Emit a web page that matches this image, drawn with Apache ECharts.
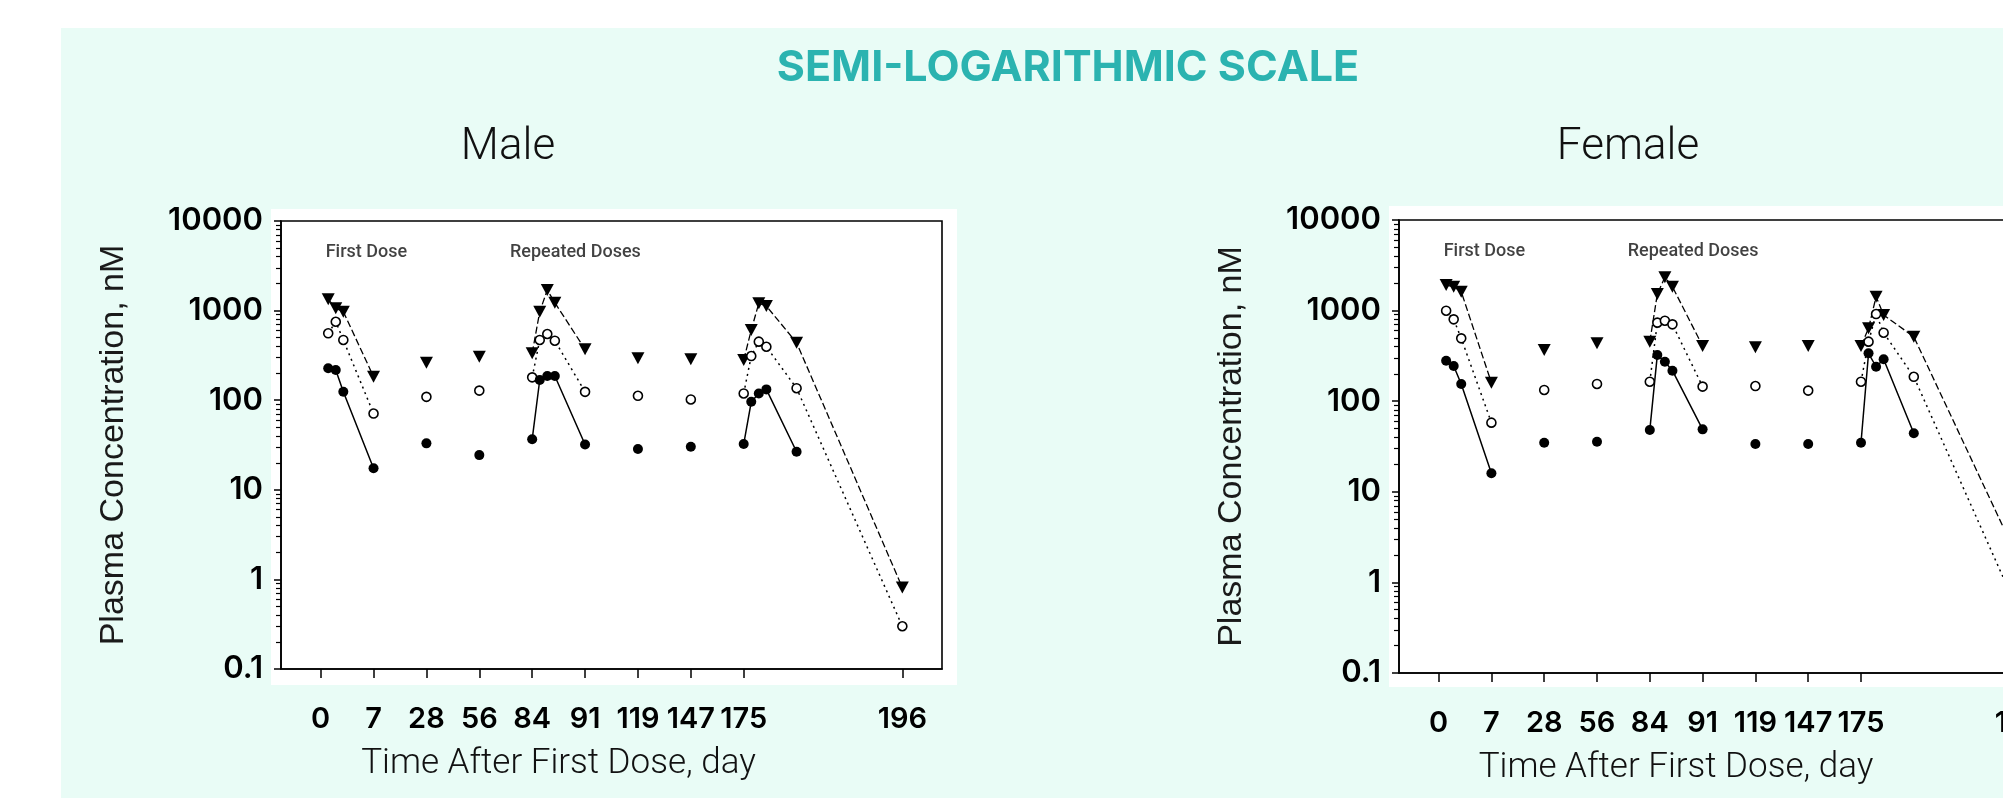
<!DOCTYPE html>
<html>
<head>
<meta charset="utf-8">
<script src="https://cdn.jsdelivr.net/npm/echarts@6/dist/echarts.min.js"></script>
<style>
  html, body { margin: 0; padding: 0; background: #fff; }
  #chart { width: 2003px; height: 798px; }
</style>
</head>
<body>
<div id="chart"></div>
<script>
// sampling days after the first dose
const days = [1, 2, 3, 7, 28, 56, 84, 85, 86, 87, 91, 119, 147, 175, 176, 177, 178, 182, 196];
// the lines are broken after these days
const breakAfter = [7, 28, 56, 91, 119, 147];

// x axis: equally spaced ticks, after 175 the axis runs at 7 days per tick
const tickDays = [0, 7, 28, 56, 84, 91, 119, 147, 175];
const labelDays = [0, 7, 28, 56, 84, 91, 119, 147, 175, 196];
const tickLabels = ['0', '7', '28', '56', '84', '91', '119', '147', '175', '196'];

// plasma concentration, nM (triangles / open circles / filled circles)
const maleHigh = [1337, 1061, 973, 183, 262, 306, 334, 972, 1698, 1225, 370, 293, 286, 281, 607, 1206, 1125, 438, 0.81];
const maleMid = [558, 751, 470, 71, 109, 128, 180, 470, 548, 461, 124, 112, 102, 119, 311, 450, 395, 136, 0.30];
const maleLow = [227, 217, 124, 17.4, 33, 24.4, 36.6, 168, 186, 186, 32, 28.5, 30.3, 32.4, 96, 119, 132, 26.6, null];

const femaleHigh = [1917, 1837, 1617, 160, 367, 435, 454, 1525, 2329, 1836, 407, 393, 407, 407, 637, 1425, 894, 515, 1.7];
const femaleMid = [997, 801, 494, 58, 133, 155, 164, 736, 774, 705, 145, 147, 131, 164, 454, 917, 570, 186, 0.45];
const femaleLow = [280, 245, 155, 16.0, 34.8, 35.7, 48, 324, 273, 217, 48.9, 33.7, 33.7, 34.8, 338, 240, 290, 44.2, null];

// text notes inside the plots
const noteText = ['First Dose', 'Repeated Doses'];
const noteDays = [0.6, 72];
const noteLevel = [4500, 4500];

// minor ticks of the log axis (2..9 in each decade)
const minorMultipliers = [2, 3, 4, 5, 6, 7, 8, 9];
const decades = [-1, 0, 1, 2, 3];

function dayToPos(d) {
  const last = tickDays.length - 1;
  if (d >= tickDays[last]) return last + (d - tickDays[last]) / 7;
  for (let i = 1; i <= last; i++) {
    if (d <= tickDays[i]) return i - 1 + (d - tickDays[i - 1]) / (tickDays[i] - tickDays[i - 1]);
  }
}

const tickPos = labelDays.map(dayToPos);
const minorPos = [];
decades.forEach(k => minorMultipliers.forEach(m => minorPos.push(k + Math.log10(m))));

function lineData(vals) {
  const out = [];
  days.forEach((d, i) => {
    if (vals[i] != null) out.push([dayToPos(d), vals[i]]);
    if (breakAfter.includes(d)) out.push([dayToPos(d), '-']);
  });
  return out;
}

const black = '#000';
const tickFont = { color: black, fontFamily: 'Inter', fontWeight: 600 };

const styles = {
  high: {
    symbol: 'triangle', symbolRotate: 180, symbolSize: [13, 12],
    itemStyle: { color: black },
    lineStyle: { color: black, width: 1.3, type: [7, 3] }
  },
  mid: {
    symbol: 'circle', symbolSize: 9,
    itemStyle: { color: '#fff', borderColor: black, borderWidth: 1.6 },
    lineStyle: { color: black, width: 1.5, type: [2, 4] }
  },
  low: {
    symbol: 'circle', symbolSize: 10,
    itemStyle: { color: black },
    lineStyle: { color: black, width: 1.5, type: 'solid' }
  }
};

const panels = [
  { name: 'Male', grid: { left: 281, top: 221, width: 661, height: 448 }, high: maleHigh, mid: maleMid, low: maleLow },
  { name: 'Female', grid: { left: 1399, top: 220, width: 660, height: 453 }, high: femaleHigh, mid: femaleMid, low: femaleLow }
];

const grid = [], xAxis = [], yAxis = [], series = [];

panels.forEach((p, gi) => {
  grid.push(Object.assign({
    show: true, backgroundColor: '#fff', borderColor: black, borderWidth: 1.6,
    containLabel: false, outerBoundsMode: 'none'
  }, p.grid));

  xAxis.push({
    type: 'value', gridIndex: gi, min: -0.75, max: 11.75,
    splitLine: { show: false },
    axisLine: { show: true, onZero: false, lineStyle: { color: black, width: 1.6 } },
    axisTick: { show: true, inside: false, length: 9, customValues: tickPos, lineStyle: { color: black, width: 1.5 } },
    axisLabel: {
      customValues: tickPos, margin: 36, fontSize: 29, ...tickFont,
      formatter: v => {
        const i = tickPos.findIndex(t => Math.abs(t - v) < 1e-6);
        return i < 0 ? '' : tickLabels[i];
      }
    },
    name: 'Time After First Dose, day', nameLocation: 'middle', nameGap: 78, nameMoveOverlap: false,
    nameTextStyle: { color: '#111', fontSize: 35, fontFamily: 'Roboto', fontWeight: 300, padding: [0, 106, 0, 0] }
  });

  yAxis.push({
    type: 'log', logBase: 10, gridIndex: gi, min: 0.1, max: 10000,
    splitLine: { show: false },
    axisLine: { show: true, onZero: false, lineStyle: { color: black, width: 1.6 } },
    axisTick: { show: true, inside: false, length: 7, lineStyle: { color: black, width: 1.5 } },
    axisLabel: { margin: 18, fontSize: 31, ...tickFont, formatter: v => (v < 1 ? v.toFixed(1) : String(Math.round(v))) },
    name: 'Plasma Concentration, nM', nameLocation: 'middle', nameGap: 150, nameRotate: 90, nameMoveOverlap: false,
    nameTextStyle: { color: '#1a1a1a', fontSize: 34, fontFamily: 'Liberation Sans' }
  });
  // second, linear axis in log units that only carries the minor ticks
  yAxis.push({
    type: 'value', gridIndex: gi, min: -1, max: 4, position: 'left', offset: 0,
    splitLine: { show: false }, axisLabel: { show: false },
    axisLine: { show: true, onZero: false, lineStyle: { color: 'rgba(0,0,0,0)', width: 0 } },
    axisTick: { show: true, inside: false, length: 5, customValues: minorPos, lineStyle: { color: black, width: 1.2 } }
  });

  const yi = gi * 2;
  ['high', 'mid', 'low'].forEach((k, si) => {
    series.push(Object.assign({
      type: 'line', xAxisIndex: gi, yAxisIndex: yi,
      data: lineData(p[k]), showSymbol: true, connectNulls: false,
      animation: false, silent: true, z: 3 + si
    }, styles[k]));
  });

  series.push({
    type: 'scatter', xAxisIndex: gi, yAxisIndex: yi, symbolSize: 1,
    itemStyle: { color: 'transparent' }, animation: false, silent: true,
    data: noteText.map((t, i) => ({ value: [dayToPos(noteDays[i]), noteLevel[i]], name: t })),
    label: {
      show: true, position: 'right', distance: 0, formatter: '{b}',
      color: '#111', fontSize: 18, fontFamily: 'Roboto', fontWeight: 500
    }
  });
});

const chart = echarts.init(document.getElementById('chart'), null, { renderer: 'canvas' });
chart.setOption({
  backgroundColor: '#fff',
  animation: false,
  grid, xAxis, yAxis, series,
  graphic: [
    { type: 'rect', z: -10, silent: true, shape: { x: 61, y: 28, width: 1942, height: 770 }, style: { fill: '#e9fcf6' } },
    { type: 'rect', z: -9, silent: true, shape: { x: 271, y: 209, width: 686, height: 476 }, style: { fill: '#fff' } },
    { type: 'rect', z: -9, silent: true, shape: { x: 1389, y: 206, width: 700, height: 481 }, style: { fill: '#fff' } },
    { type: 'text', z: 10, silent: true, x: 1068, y: 68,
      style: { text: 'SEMI-LOGARITHMIC SCALE', align: 'center', verticalAlign: 'middle', fill: '#2bb3b0',
               font: 'bold 43px Inter' } },
    { type: 'text', z: 10, silent: true, x: 508, y: 148,
      style: { text: panels[0].name, align: 'center', verticalAlign: 'middle', fill: '#111', font: '300 44px Roboto' } },
    { type: 'text', z: 10, silent: true, x: 1628, y: 148,
      style: { text: panels[1].name, align: 'center', verticalAlign: 'middle', fill: '#111', font: '300 44px Roboto' } }
  ]
});
</script>
</body>
</html>
